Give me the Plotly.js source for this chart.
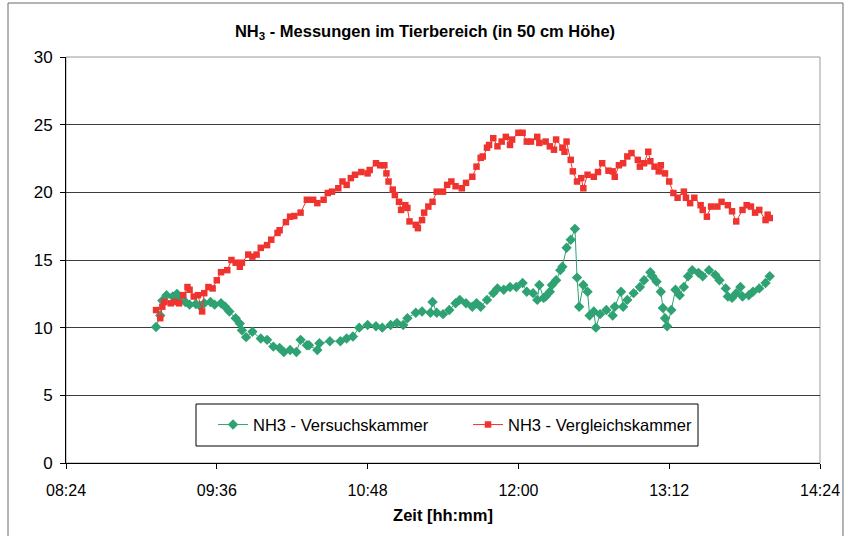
<!DOCTYPE html>
<html>
<head>
<meta charset="utf-8">
<script src="https://cdn.plot.ly/plotly-3.0.1.min.js"></script>
<style>html,body{margin:0;padding:0;background:#fff;}#chart{width:850px;height:536px;}</style>
</head>
<body>
<div id="chart"></div>
<script>
const chartTitle = "NH<sub>3</sub> - Messungen im Tierbereich (in 50 cm Höhe)";
const xTitle = "Zeit [hh:mm]";
const seriesNames = ["NH3 - Versuchskammer", "NH3 - Vergleichskammer"];
const dayPrefix = "2000-01-01 ";
const xTickVals = ["08:24","09:36","10:48","12:00","13:12","14:24"];

const versuchTimes = [
"09:07","09:09","09:10","09:12","09:15","09:17","09:18","09:21","09:23","09:26",
"09:28","09:30","09:33","09:35","09:38","09:40","09:42","09:45","09:47","09:48",
"09:50","09:53","09:57","10:00","10:03","10:06","10:08","10:11","10:14","10:16",
"10:19","10:20","10:24","10:25","10:30","10:35","10:38","10:41","10:44","10:48",
"10:52","10:55","10:59","11:02","11:05","11:07","11:11","11:14","11:18","11:19",
"11:21","11:24","11:27","11:30","11:32","11:35","11:38","11:40","11:42","11:45",
"11:48","11:50","11:53","11:56","11:59","12:02","12:04","12:07","12:09","12:10",
"12:12","12:13","12:15","12:16","12:18","12:20","12:21","12:23","12:25","12:27",
"12:28","12:29","12:31","12:33","12:34","12:36","12:37","12:39","12:42","12:45",
"12:46","12:49","12:50","12:52","12:55","12:58","13:00","13:03","13:04","13:06",
"13:08","13:09","13:10","13:11","13:13","13:15","13:17","13:19","13:21","13:23",
"13:26","13:28","13:31","13:34","13:36","13:39","13:40","13:42","13:44","13:46",
"13:47","13:50","13:52","13:55","13:58","14:00"];
const versuchValues = [
10.05,10.9,12.0,12.4,12.3,12.5,12.2,11.9,11.7,11.75,
11.6,11.8,11.9,11.7,11.8,11.55,11.2,10.7,10.3,9.8,
9.3,9.7,9.2,9.1,8.6,8.5,8.2,8.35,8.2,9.1,
8.7,8.7,8.35,8.85,9.0,9.0,9.2,9.35,10.0,10.2,
10.1,10.0,10.2,10.35,10.2,10.7,11.1,11.2,11.1,11.9,
11.1,11.0,11.3,11.8,12.05,11.8,11.55,11.8,11.55,12.05,
12.55,12.9,12.8,13.0,13.0,13.3,12.65,12.55,12.05,13.15,
12.2,12.3,12.65,13.15,13.5,14.25,14.5,15.9,16.5,17.3,
13.7,11.55,13.15,12.65,10.9,11.2,10.0,11.0,11.3,10.9,
11.55,12.65,11.55,12.05,12.55,13.0,13.5,14.1,13.8,13.4,
12.65,11.45,10.7,10.1,11.3,12.8,12.4,13.0,13.8,14.25,
14.05,13.8,14.25,13.9,13.5,12.9,12.3,12.2,12.55,13.0,
12.3,12.4,12.65,12.9,13.3,13.8];

const vergleichTimes = [
"09:07","09:09","09:10","09:11","09:14","09:16","09:18","09:20","09:22","09:23",
"09:25","09:27","09:29","09:30","09:32","09:34","09:36","09:38","09:41","09:43",
"09:45","09:47","09:48","09:51","09:53","09:55","09:57","10:00","10:02","10:05",
"10:06","10:09","10:11","10:13","10:16","10:19","10:22","10:24","10:27","10:29",
"10:31","10:34","10:36","10:38","10:40","10:42","10:45","10:48","10:49","10:52",
"10:54","10:56","10:57","10:58","11:00","11:01","11:03","11:04","11:06","11:07",
"11:08","11:11","11:12","11:14","11:15","11:17","11:19","11:21","11:24","11:26",
"11:28","11:30","11:33","11:35","11:38","11:40","11:42","11:43","11:45","11:46",
"11:48","11:50","11:52","11:54","11:56","11:57","12:00","12:02","12:04","12:06",
"12:09","12:10","12:13","12:15","12:17","12:18","12:21","12:22","12:23","12:25",
"12:26","12:28","12:30","12:31","12:33","12:36","12:38","12:40","12:43","12:45",
"12:46","12:48","12:50","12:52","12:54","12:57","12:58","13:00","13:02","13:03",
"13:05","13:07","13:08","13:10","13:12","13:14","13:16","13:19","13:20","13:22",
"13:24","13:27","13:28","13:30","13:32","13:35","13:37","13:40","13:42","13:44",
"13:47","13:49","13:51","13:53","13:55","13:58","13:59","14:00"];
const vergleichValues = [
11.3,10.7,11.55,11.9,11.8,11.9,11.8,12.4,13.0,12.8,
12.3,12.4,11.2,12.55,13.0,12.9,13.5,14.1,14.25,15.0,
14.8,14.5,14.8,15.4,15.25,15.4,15.9,16.1,16.5,17.0,
17.2,17.8,18.2,18.25,18.5,19.45,19.45,19.2,19.45,19.95,
20.05,20.3,20.8,20.55,21.05,21.3,21.5,21.4,21.65,22.15,
22.0,22.0,21.4,20.8,20.2,19.8,19.3,18.7,19.05,18.85,
17.85,17.6,17.35,17.95,18.5,18.95,19.3,20.05,20.05,20.55,
20.8,20.45,20.3,20.7,21.15,21.9,22.55,22.65,23.3,23.5,
24.0,23.4,23.75,24.1,23.5,23.9,24.4,24.4,23.75,23.75,
24.1,23.65,23.75,23.4,23.15,23.9,23.3,23.0,23.75,22.4,
21.55,20.8,21.05,20.3,21.3,21.15,21.5,22.15,21.6,21.55,
21.15,22.0,22.15,22.65,22.9,22.4,21.9,22.15,23.0,22.3,
21.9,21.55,22.0,21.4,20.8,19.95,19.6,20.05,19.6,19.2,
19.6,19.05,18.7,18.2,18.95,18.95,19.3,19.05,18.6,17.85,
18.7,19.05,18.95,18.5,18.7,17.95,18.35,18.1];

const toDate = arr => arr.map(t => dayPrefix + t);
const font = "Liberation Sans, Arial, sans-serif";
const green = "#2fa273";
const red = "#ef3430";

const traces = [
  {
    x: toDate(versuchTimes), y: versuchValues, name: seriesNames[0],
    type: "scatter", mode: "lines+markers",
    line: {color: green, width: 1},
    marker: {symbol: "diamond", size: 8, color: green}
  },
  {
    x: toDate(vergleichTimes), y: vergleichValues, name: seriesNames[1],
    type: "scatter", mode: "lines+markers",
    line: {color: red, width: 1},
    marker: {symbol: "square", size: 6.5, color: red}
  }
];

const layout = {
  width: 850, height: 536,
  margin: {l: 66, r: 30, t: 57, b: 73},
  paper_bgcolor: "#fff", plot_bgcolor: "#fff",
  font: {family: font, color: "#000"},
  showlegend: true,
  title: {text: "<b>" + chartTitle + "</b>", font: {size: 16.5, family: font, color: "#000"},
          x: 0.5, xanchor: "center", y: 0.942, yanchor: "middle"},
  xaxis: {
    type: "date",
    range: [dayPrefix + xTickVals[0], dayPrefix + xTickVals[xTickVals.length - 1]],
    tickmode: "array", tickvals: toDate(xTickVals), ticktext: xTickVals,
    ticks: "outside", ticklen: 5, tickcolor: "#000", tickwidth: 1,
    ticklabelstandoff: 8,
    showline: true, linecolor: "#000", linewidth: 1,
    showgrid: false, zeroline: false,
    tickfont: {size: 16, family: font, color: "#000"},
    title: {text: "<b>" + xTitle + "</b>", font: {size: 16.5, family: font, color: "#000"}, standoff: 11}
  },
  yaxis: {
    range: [0, 30], dtick: 5, tick0: 0,
    ticks: "outside", ticklen: 5, tickcolor: "#000", tickwidth: 1,
    ticklabelstandoff: 4,
    showline: true, linecolor: "#000", linewidth: 1,
    showgrid: true, gridcolor: "#3c3c3c", gridwidth: 1,
    zeroline: false,
    tickfont: {size: 17, family: font, color: "#000"}
  },
  legend: {
    orientation: "h", x: 0.195, xanchor: "left", y: 0.094, yanchor: "middle",
    borderwidth: 0, bgcolor: "rgba(0,0,0,0)",
    font: {size: 16.5, family: font, color: "#000"},
    entrywidth: 210, entrywidthmode: "pixels", itemwidth: 30,
    traceorder: "normal"
  },
  shapes: [
    {type: "rect", xref: "paper", yref: "paper", x0: 0, x1: 1, y0: 0, y1: 1,
     line: {color: "#9a9a9a", width: 1}, layer: "below"},
    {type: "rect", xref: "paper", yref: "paper", x0: -0.0769, x1: 1.0305, y0: -0.2, y1: 1.133,
     line: {color: "#6a6a6a", width: 1}, layer: "below"},
    {type: "rect", xref: "paper", yref: "paper",
     x0: (196 - 66) / 754, x1: (698 - 66) / 754, y0: (463 - 446) / 406, y1: (463 - 404) / 406,
     line: {color: "#000", width: 1}, fillcolor: "#fff", layer: "above"}
  ]
};

Plotly.newPlot("chart", traces, layout, {displayModeBar: false, staticPlot: true});
</script>
</body>
</html>
